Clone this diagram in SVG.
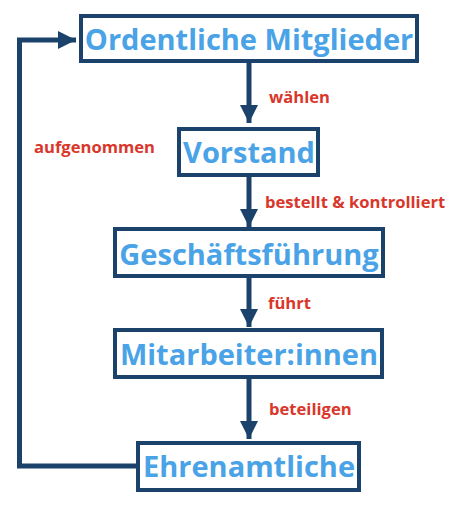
<svg xmlns="http://www.w3.org/2000/svg" width="461" height="516" viewBox="0 0 461 516">
<style>
.box{fill:#fff;stroke:#1b426a;stroke-width:4}
.t{font-family:"Open Sans",sans-serif;font-weight:700;font-size:29px;fill:#4aa3e6;text-anchor:middle}
.l{font-family:"Open Sans",sans-serif;font-weight:700;font-size:16.6px;fill:#d9372b}
.c{fill:none;stroke:#1b426a;stroke-width:5}
</style>
<defs>
<marker id="ah" markerWidth="3.6" markerHeight="3.6" refX="3.6" refY="1.8" orient="auto" markerUnits="strokeWidth">
<path d="M0,0 L3.6,1.8 L0,3.6 Z" fill="#1b426a"/>
</marker>
</defs>
<rect width="461" height="516" fill="#fff"/>
<g id="connectors">
<line class="c" x1="249" y1="63" x2="249" y2="123" marker-end="url(#ah)"/>
<line class="c" x1="249" y1="177" x2="249" y2="227" marker-end="url(#ah)"/>
<line class="c" x1="249" y1="278" x2="249" y2="327" marker-end="url(#ah)"/>
<line class="c" x1="249" y1="379" x2="249" y2="439" marker-end="url(#ah)"/>
<polyline class="c" points="137,466 19.5,466 19.5,40 76,40" marker-end="url(#ah)"/>
<text class="l" x="269" y="103">wählen</text>
<text class="l" x="265" y="208">bestellt &amp; kontrolliert</text>
<text class="l" x="268" y="309">führt</text>
<text class="l" x="269" y="415">beteiligen</text>
<text class="l" x="34" y="153">aufgenommen</text>
</g>
<g id="n1"><rect class="box" x="81" y="16" width="336" height="45"/><text class="t" x="249" y="50">Ordentliche Mitglieder</text></g>
<g id="n2"><rect class="box" x="179" y="129" width="139" height="46"/><text class="t" x="249" y="163">Vorstand</text></g>
<g id="n3"><rect class="box" x="115" y="229" width="268" height="47"/><text class="t" x="249" y="265">Geschäftsführung</text></g>
<g id="n4"><rect class="box" x="115" y="330" width="267" height="47"/><text class="t" x="249" y="365">Mitarbeiter:innen</text></g>
<g id="n5"><rect class="box" x="138" y="443" width="221" height="47"/><text class="t" x="249" y="477">Ehrenamtliche</text></g>
</svg>
